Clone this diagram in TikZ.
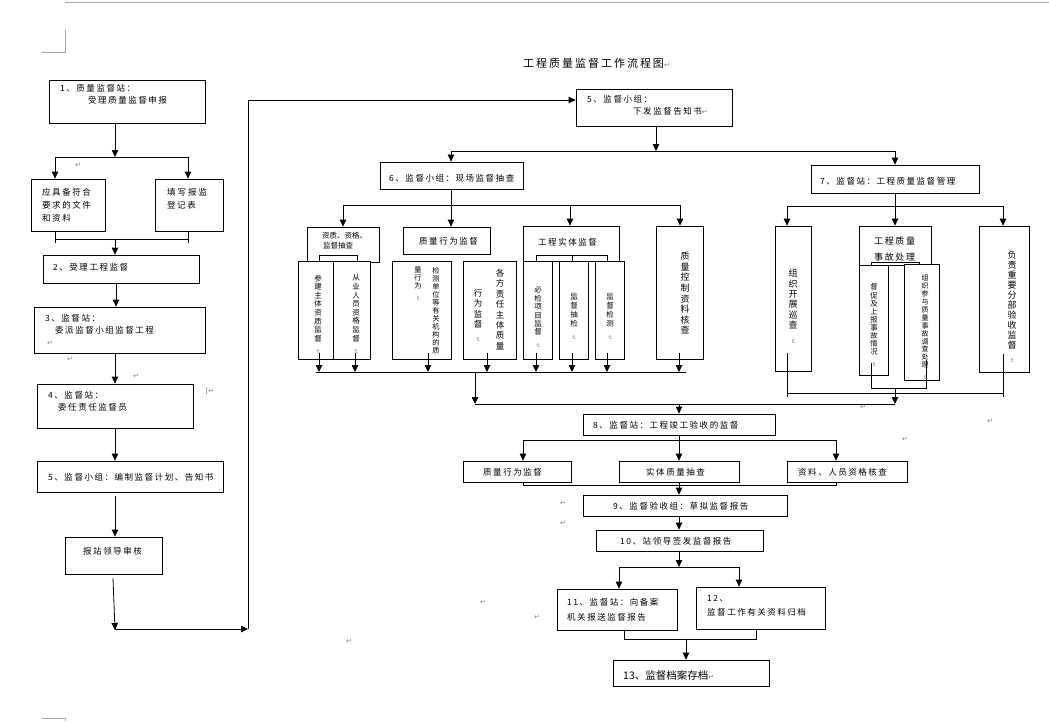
\documentclass[tikz,border=0pt]{standalone}
\usepackage{fontspec}
\setmainfont{Noto Sans CJK SC}
\newfontfamily\cjk{Noto Sans CJK SC}
\newfontfamily\cjks[LetterSpace=18]{Noto Sans CJK SC}
\newfontfamily\dv{DejaVu Sans}
\usetikzlibrary{arrows.meta,fit}
\newcommand\pmv{{\dv\color{gray}\fontsize{6}{6}\selectfont\rotatebox{-90}{↵}}}
\newcommand\pmh{{\dv\color{gray}\fontsize{7}{7}\selectfont ↵}}
\tikzset{
 box/.style={draw, line width=0.8pt, inner sep=0pt},
 ht/.style={inner sep=0pt, anchor=west, font=\cjks\fontsize{8.5}{10}\selectfont},
 vt/.style n args={2}{inner sep=0pt, anchor=north, align=center, font=\cjk\fontsize{#1}{#2}\selectfont},
 ln/.style={line width=0.8pt},
 arr/.style={line width=0.8pt, -{Triangle[length=7pt,width=6.5pt]}},
 pm/.style={inner sep=0pt, text=gray, font=\dv\fontsize{7}{7}\selectfont},
 pg/.style={line width=0.6pt, gray!70},
}
\begin{document}
\begin{tikzpicture}[x=1pt,y=-1pt]
\useasboundingbox (0,0) rectangle (1049,721);
\fill[white] (0,0) rectangle (1049,721);
% page marks
\draw[pg] (65,2) -- (1049,2);
\draw[pg] (65,30) -- (65,52) -- (42,52);
\draw[pg] (42,718) -- (65,718) -- (65,721);
% title
\node[inner sep=0pt, anchor=west, font=\cjks\fontsize{11}{13}\selectfont] (title) at (523,63) {工程质量监督工作流程图\pmh};

% ---------------- left column ----------------
\node[box, fit={(49,80)(205,123)}] (b1) {};
\node[ht] (t1a) at (60,88) {1、质量监督站：};
\node[ht] (t1b) at (88,100) {受理质量监督申报};
\node[box, fit={(31,179)(105,231)}] (b1a) {};
\node[ht] (t1c) at (42,192) {应具备符合};
\node[ht] (t1d) at (42,205) {要求的文件};
\node[ht] (t1e) at (42,218) {和资料};
\node[box, fit={(155,179)(223,231)}] (b1b) {};
\node[ht] (t1f) at (167,192) {填\hspace{2pt}写\hspace{2pt}报\hspace{2pt}监};
\node[ht] (t1g) at (167,205) {登记表};
\node[box, fit={(43,255)(199,283)}] (b2) {};
\node[ht] (t2) at (53,267) {2、受理工程监督};
\node[box, fit={(34,307)(205,353)}] (b3) {};
\node[ht] (t3a) at (45,318) {3、监督站：};
\node[ht] (t3b) at (55,330) {委派监督小组监督工程};
\node[box, fit={(37,384)(193,428)}] (b4) {};
\node[ht] (t4a) at (48,395) {4、监督站：};
\node[ht] (t4b) at (58,407) {委任责任监督员};
\node[box, fit={(37,461)(223,492)}] (b5l) {};
\node[ht] (t5l) at (48,477) {5、监督小组：编制监督计划、告知书};
\node[box, fit={(65,537)(162,574)}] (b6l) {};
\node[ht] (t6l) at (83,551) {报站领导审核};

\coordinate (j1) at (115,157);
\coordinate (j1l) at (55,157);
\coordinate (j1r) at (188,157);
\coordinate (j2) at (115,239);
\coordinate (j2l) at (55,239);
\coordinate (j2r) at (188,239);
\coordinate (j3) at (116,300);
\draw[arr] (b1.south -| j1) -- (j1);
\draw[ln] (j1l) -- (j1r);
\draw[arr] (j1l) -- (b1a.north -| j1l);
\draw[arr] (j1r) -- (b1b.north -| j1r);
\draw[ln] (b1a.south -| j2l) -- ++(0,12);
\draw[ln] (b1b.south -| j2r) -- ++(0,12);
\draw[ln] (j2l) -- (j2r);
\draw[arr] (j2) -- (b2.north -| j2);
\draw[arr] (b2.south -| j3) -- (b3.north -| j3);
\draw[arr] (b3.south -| j1) -- (b4.north -| j1);
\draw[arr] (b4.south -| j1) -- (b5l.north -| j1);
\draw[arr] ([yshift=-4pt]b5l.south -| j1) -- (b6l.north -| j1);
\coordinate (k0) at (113,600);
\coordinate (k1) at (115,629);
\coordinate (k2) at (248,629);
\coordinate (k3) at (248,100);
\draw[arr] ([yshift=-4pt]b6l.south -| k0) -- ([yshift=-1pt]k1);
\draw[arr] (k1) -- (k2);
\draw[ln] (k2) -- (k3);

% ---------------- right: 5,6,7 ----------------
\node[box, fit={(576,89)(732,126)}] (b5r) {};
\node[ht] (t5ra) at (587,99) {5、监督小组：};
\node[ht] (t5rb) at (633,111) {下发监督告知书\pmh};
\draw[arr] (k3) -- (b5r.west |- k3);

\node[box, fit={(380,162)(523,189)}] (b6) {};
\node[ht] (t6) at (389,178) {6、监督小组：现场监督抽查};
\node[box, fit={(811,165)(979,193)}] (b7) {};
\node[ht] (t7) at (820,181) {7、监督站：工程质量监督管理};

\coordinate (m1) at (656,151);
\coordinate (m1l) at (451,151);
\coordinate (m1r) at (895,151);
\draw[arr] (b5r.south -| m1) -- (m1);
\draw[ln] (m1l) -- (m1r);
\draw[arr] (m1l) -- (b6.north -| m1l);
\draw[arr] (m1r) -- (b7.north -| m1r);

% group 6 boxes
\node[box, fit={(307,227)(379,262)}] (ga) {};
\node[inner sep=0pt, anchor=west, font=\cjk\fontsize{7.5}{9}\selectfont] (tga1) at (322,236) {资质、资格、};
\node[inner sep=0pt, anchor=west, font=\cjk\fontsize{7.5}{9}\selectfont] (tga2) at (323,246) {监督抽查};
\node[box, fill=white, fit={(298,261)(333,359)}] (ga1) {};
\node[box, fill=white, fit={(333,261)(370,359)}] (ga2) {};
\draw[ln] (319,261) -- (319,255) -- (357,255) -- (357,261);
\node[vt={7.5}{8.6}] (tga1v) at (318,274.5) {参\\建\\主\\体\\资\\质\\监\\督\\\pmv};
\node[vt={7.5}{8.6}] (tga2v) at (356,274.5) {从\\业\\人\\员\\资\\格\\监\\督\\\pmv};

\node[box, fit={(403,227)(490,254)}] (gb) {};
\node[ht] (tgb) at (419,241) {质量行为监督};
\node[box, fit={(392,261)(451,359)}] (gb1) {};
\node[box, fit={(463,261)(516,359)}] (gb2) {};
\node[vt={7.2}{8}] (tgb1r) at (436,266.7) {检\\测\\单\\位\\等\\有\\关\\机\\构\\的\\质};
\node[vt={7.2}{8}] (tgb1l) at (418,266.7) {量\\行\\为\\\pmv};
\node[vt={8.5}{10.4}] (tgb2r) at (500,269) {各\\方\\责\\任\\主\\体\\质\\量};
\node[vt={8.5}{10.4}] (tgb2l) at (478,289) {行\\为\\监\\督\\\pmv};

\node[box, fit={(523,226)(619,261)}] (gc) {};
\node[ht] (tgc) at (538,242) {工程实体监督};
\node[box, fill=white, fit={(523,261)(552,359)}] (gc1) {};
\node[box, fill=white, fit={(559,261)(588,359)}] (gc2) {};
\node[box, fill=white, fit={(595,261)(624,359)}] (gc3) {};
\draw[ln] (536,261) -- (536,255) -- (607,255) -- (607,261);
\draw[ln] (572,255) -- (572,261);
\node[vt={7.5}{8.4}] (tgc1) at (538,286.5) {必\\检\\项\\目\\监\\督\\\pmv};
\node[vt={7.5}{9}] (tgc2) at (574,293.5) {监\\督\\抽\\检\\\pmv};
\node[vt={7.5}{9}] (tgc3) at (610,293.5) {监\\督\\检\\测\\\pmv};

\node[box, fit={(656,226)(703,359)}] (gd) {};
\node[vt={9}{10.6}] (tgd) at (685,252) {质\\量\\控\\制\\资\\料\\核\\查};

\coordinate (n0) at (451,205);
\coordinate (nl) at (343,205);
\coordinate (n2) at (570,205);
\coordinate (nr) at (680,205);
\draw[ln] (b6.south -| n0) -- (n0);
\draw[ln] (nl) -- (nr);
\draw[arr] (nl) -- (ga.north -| nl);
\draw[arr] (n0) -- (gb.north -| n0);
\draw[arr] (n2) -- (gc.north -| n2);
\draw[arr] (nr) -- (gd.north -| nr);

% group 7 boxes
\node[box, fit={(775,226)(811,371)}] (ge) {};
\node[vt={9}{10.4}] (tge) at (793,269) {组\\织\\开\\展\\巡\\查\\\pmv};
\node[box, fit={(859,226)(931,265)}] (gf) {};
\node[inner sep=0pt, anchor=west, font=\cjks\fontsize{9}{11}\selectfont] (tgf1) at (874,241) {工程质量};
\node[inner sep=0pt, anchor=west, font=\cjks\fontsize{9}{11}\selectfont] (tgf2) at (874,257) {事故处理};
\draw[ln] (871,265) -- (871,262) -- (919,262) -- (919,265);
\node[box, fill=white, fit={(859,265)(888,375)}] (gf1) {};
\node[box, fill=white, fit={(904,264)(939,380)}] (gf2) {};
\node[vt={7.3}{8.1}] (tgf1v) at (874,283.6) {督\\促\\及\\上\\报\\事\\故\\情\\况\\\pmv};
\node[vt={7}{7.9}] (tgf2v) at (925,274.8) {组\\织\\参\\与\\质\\量\\事\\故\\调\\查\\处\\理\\\pmv};
\node[box, fit={(979,226)(1029,372)}] (gg) {};
\node[vt={9}{10}] (tgg) at (1012,251) {负\\责\\重\\要\\分\\部\\验\\收\\监\\督\\\pmv};

\coordinate (p0) at (895,206);
\coordinate (pl) at (787,206);
\coordinate (pr) at (1003,206);
\draw[arr] (b7.south -| p0) -- (gf.north -| p0);
\draw[ln] (pl) -- (pr);
\draw[arr] (pl) -- (ge.north -| pl);
\draw[arr] (pr) -- (gg.north -| pr);

% joins under group 6
\coordinate (q0) at (475,372);
\foreach \xx in {319,355,428,487,536,572,607,679}
  \draw[arr] (\xx,353) -- (\xx,372);
\draw[ln] (316,372) -- (686,372);
\coordinate (q1) at (475,404);
\coordinate (q2) at (895,404);
\coordinate (q3) at (679,404);
\draw[arr] (q0) -- (q1);
\draw[ln] (q1) -- (q2);

% joins under group 7
\draw[ln] (787,353) -- (787,397);
\draw[ln] (1003,354) -- (1003,397);
\draw[ln] (787,393) -- (1003,393);
\draw[ln] (871,363) -- (871,388) -- (926,388) -- (926,360);
\draw[arr] (895,388) -- (q2);

% ---------------- 8 .. 13 ----------------
\node[box, fit={(583,414)(775,435)}] (b8) {};
\node[ht] (t8) at (593,425) {8、监督站：工程竣工验收的监督};
\draw[arr] (q3) -- (b8.north -| q3);

\node[box, fit={(463,461)(571,482)}] (c1) {};
\node[ht] (tc1) at (483,472) {质量行为监督};
\node[box, fit={(619,461)(739,482)}] (c2) {};
\node[ht] (tc2) at (646,472) {实体质量抽查};
\node[box, fit={(787,461)(907,482)}] (c3) {};
\node[ht] (tc3) at (798,472) {资料、人员资格核查};
\coordinate (r0) at (679,440);
\coordinate (rl) at (523,440);
\coordinate (rr) at (836,440);
\draw[ln] (b8.south -| r0) -- (r0);
\draw[ln] (rl) -- (rr);
\draw[arr] (rl) -- (c1.north -| rl);
\draw[arr] (r0) -- (c2.north -| r0);
\draw[arr] (rr) -- (c3.north -| rr);
\coordinate (s0) at (679,485);
\coordinate (sl) at (523,485);
\coordinate (sr) at (836,485);
\draw[ln] (c1.south -| sl) -- (sl) -- (sr) -- (c3.south -| sr);

\node[box, fit={(583,495)(787,516)}] (b9) {};
\node[ht] (t9) at (613,506) {9、监督验收组：草拟监督报告};
\draw[arr] (c2.south -| s0) -- (b9.north -| s0);

\node[box, fit={(596,530)(763,551)}] (b10) {};
\node[ht] (t10) at (620,541) {10、站领导签发监督报告};
\draw[arr] (b9.south -| s0) -- (b10.north -| s0);

\node[box, fit={(557,589)(677,630)}] (b11) {};
\node[ht] (t11a) at (567,602) {11、监督站：向备案};
\node[ht] (t11b) at (567,617) {机关报送监督报告};
\node[box, fit={(696,587)(825,629)}] (b12) {};
\node[ht] (t12a) at (707,599) {12、};
\node[ht] (t12b) at (707,612) {监督工作有关资料归档};
\coordinate (u0) at (679,567);
\coordinate (ul) at (619,567);
\coordinate (ur) at (739,567);
\draw[arr] (b10.south -| u0) -- (u0);
\draw[ln] (ul) -- (ur);
\draw[arr] (ul) -- (b11.north -| ul);
\draw[arr] (ur) -- (b12.north -| ur);

\node[box, fit={(613,660)(769,686)}] (b13) {};
\node[inner sep=0pt, anchor=west, font=\cjk\fontsize{10.5}{12}\selectfont] (t13) at (623,675) {13、监督档案存档\pmh};
\coordinate (v0) at (686,639);
\coordinate (vl) at (624,639);
\coordinate (vr) at (756,639);
\draw[ln] (b11.south -| vl) -- (vl) -- (vr) -- (b12.south -| vr);
\draw[arr] (v0) -- (b13.north -| v0);

% stray paragraph marks
\node[pm] (pm1) at (78,165) {↵};
\node[pm] (pm2) at (50,343) {↵};
\node[pm] (pm3) at (70,359) {↵};
\node[pm] (pm4) at (136,376) {↵};
\node[pm] (pm5) at (210,391) {[↵};
\node[pm] (pm6) at (863,407) {↵};
\node[pm] (pm7) at (990,421) {↵};
\node[pm] (pm8) at (905,439) {↵};
\node[pm] (pm9) at (563,503) {↵};
\node[pm] (pm10) at (563,523) {↵};
\node[pm] (pm11) at (483,602) {↵};
\node[pm] (pm12) at (537,617) {↵};
\node[pm] (pm13) at (349,641) {↵};
\end{tikzpicture}
\end{document}
